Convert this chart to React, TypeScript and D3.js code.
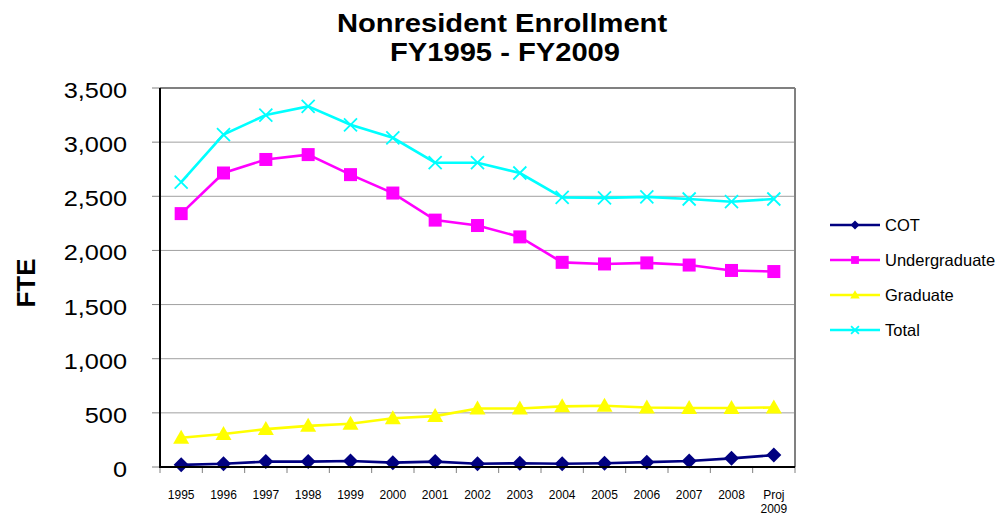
import React from 'react';
import * as d3 from 'd3';

const years = ['1995', '1996', '1997', '1998', '1999', '2000', '2001', '2002', '2003', '2004', '2005', '2006', '2007', '2008', 'Proj 2009'];
const cot = [20, 30, 50, 50, 55, 40, 50, 30, 35, 30, 35, 45, 55, 80, 110];
const undergraduate = [2340, 2715, 2840, 2885, 2700, 2530, 2280, 2230, 2125, 1890, 1875, 1885, 1865, 1815, 1805];
const graduate = [270, 305, 350, 380, 400, 450, 470, 540, 540, 560, 565, 550, 545, 545, 550];
const total = [2630, 3070, 3250, 3330, 3160, 3040, 2810, 2810, 2715, 2490, 2485, 2495, 2475, 2450, 2475];
const yTicks = [0, 500, 1000, 1500, 2000, 2500, 3000, 3500];

const series = [
  { name: 'COT', values: cot, color: '#000080', marker: 'diamond' },
  { name: 'Undergraduate', values: undergraduate, color: '#FF00FF', marker: 'square' },
  { name: 'Graduate', values: graduate, color: '#FFFF00', marker: 'triangle' },
  { name: 'Total', values: total, color: '#00FFFF', marker: 'x' },
];

const W = 1000;
const H = 515;
const plot = { left: 160, right: 795, top: 88, bottom: 467 };
const font = 'Arial, "Liberation Sans", sans-serif';

const Marker = ({ type, x, y, color, s = 1 }) => {
  if (type === 'diamond') {
    const r = 7.5 * s;
    return <path d={`M${x},${y - r}L${x + r},${y}L${x},${y + r}L${x - r},${y}Z`} fill={color} />;
  }
  if (type === 'square') {
    const r = 6.5 * s;
    return <rect x={x - r} y={y - r} width={2 * r} height={2 * r} fill={color} />;
  }
  if (type === 'triangle') {
    const r = 8 * s;
    return <path d={`M${x},${y - r}L${x + r},${y + r * 0.75}L${x - r},${y + r * 0.75}Z`} fill={color} />;
  }
  const r = 6.5 * s;
  return (
    <path d={`M${x - r},${y - r}L${x + r},${y + r}M${x + r},${y - r}L${x - r},${y + r}`} stroke={color} strokeWidth={1.8} />
  );
};

export default function App() {
  const x = d3.scaleBand().domain(years).range([plot.left, plot.right]);
  const y = d3.scaleLinear().domain([0, 3500]).range([plot.bottom, plot.top]);
  const cx = (d) => x(d) + x.bandwidth() / 2;
  const line = d3.line<number>().x((_, i) => cx(years[i])).y((v) => y(v));
  const fmt = d3.format(',');
  const boundaries = years.map((d) => x(d)).concat([plot.right]);

  return (
    <svg width={W} height={H} style={{ position: 'absolute', left: 0, top: 0, background: '#fff' }} fontFamily={font}>
      {/* title */}
      <g fontWeight="bold" fontSize={26.5} textAnchor="middle">
        <text transform="translate(502,31.5) scale(1.1,1)">Nonresident Enrollment</text>
        <text transform="translate(505,61) scale(1.1,1)">FY1995 - FY2009</text>
      </g>

      {/* gridlines */}
      {yTicks.filter((t) => t > 0 && t < 3500).map((t) => (
        <line key={t} x1={plot.left} x2={plot.right} y1={y(t)} y2={y(t)} stroke="#a0a0a0" strokeWidth={1} />
      ))}

      {/* frame */}
      <line x1={plot.left} x2={plot.right} y1={plot.top} y2={plot.top} stroke="#808080" strokeWidth={2} />
      <line x1={plot.right} x2={plot.right} y1={plot.top} y2={plot.bottom} stroke="#808080" strokeWidth={2} />

      {/* y axis */}
      {yTicks.map((t) => (
        <g key={t}>
          <line x1={plot.left - 8} x2={plot.left} y1={y(t)} y2={y(t)} stroke="#808080" strokeWidth={1} />
          <text transform={`translate(127,${y(t) + 10}) scale(1.15,1)`} fontSize={22} textAnchor="end" fill="#000">
            {fmt(t)}
          </text>
        </g>
      ))}
      <text transform="translate(35,283) rotate(-90)" fontSize={26} fontWeight="bold" textAnchor="middle">FTE</text>

      {/* x axis */}
      {boundaries.map((b, i) => (
        <line key={i} x1={b} x2={b} y1={plot.bottom} y2={plot.bottom + 6} stroke="#808080" strokeWidth={1} />
      ))}
      {years.map((d) => {
        const parts = d.split(' ');
        return (
          <text key={d} x={cx(d)} y={499} fontSize={12} textAnchor="middle">
            {parts.map((p, i) => (
              <tspan key={i} x={cx(d)} dy={i === 0 ? 0 : 14}>{p}</tspan>
            ))}
          </text>
        );
      })}

      {/* series */}
      {series.map((s) => (
        <g key={s.name}>
          <path d={line(s.values)} fill="none" stroke={s.color} strokeWidth={2.6} />
          {s.values.map((v, i) => (
            <Marker key={i} type={s.marker} x={cx(years[i])} y={y(v)} color={s.color} />
          ))}
        </g>
      ))}

      <line x1={plot.left} x2={plot.left} y1={plot.top} y2={plot.bottom} stroke="#000" strokeWidth={2} />
      <line x1={plot.left - 1} x2={plot.right} y1={plot.bottom} y2={plot.bottom} stroke="#000" strokeWidth={2} />

      {/* legend */}
      {series.map((s, i) => {
        const ly = 225 + i * 35;
        return (
          <g key={s.name}>
            <line x1={830} x2={880} y1={ly} y2={ly} stroke={s.color} strokeWidth={2.6} />
            <Marker type={s.marker} x={855} y={ly} color={s.color} s={0.6} />
            <text x={885} y={ly + 5.5} fontSize={16.5}>{s.name}</text>
          </g>
        );
      })}
    </svg>
  );
}
